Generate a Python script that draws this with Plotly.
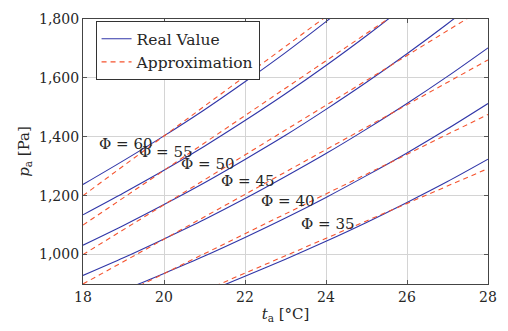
import plotly.graph_objects as go

# Air temperature grid [°C]
t_a = [18, 19, 20, 21, 22, 23, 24, 25, 26, 27, 28]

# Relative humidity levels [%]
phi_levels = [35, 40, 45, 50, 55, 60]

# Vapour partial pressure p_a [Pa], real value, per humidity level
real_35 = [722, 769, 819, 870, 926, 984, 1045, 1109, 1177, 1248, 1324]
real_40 = [826, 879, 936, 995, 1058, 1124, 1194, 1268, 1345, 1427, 1513]
real_45 = [929, 989, 1053, 1119, 1190, 1265, 1343, 1426, 1513, 1605, 1702]
real_50 = [1032, 1099, 1170, 1244, 1323, 1405, 1493, 1585, 1682, 1784, 1891]
real_55 = [1135, 1209, 1286, 1368, 1455, 1546, 1642, 1743, 1850, 1962, 2080]
real_60 = [1238, 1319, 1403, 1492, 1587, 1686, 1791, 1901, 2018, 2140, 2269]

# Vapour partial pressure p_a [Pa], linear approximation
approx_35 = [700, 759, 818, 877, 937, 996, 1055, 1114, 1173, 1232, 1292]
approx_40 = [800, 868, 935, 1003, 1070, 1138, 1206, 1273, 1341, 1408, 1476]
approx_45 = [900, 976, 1052, 1128, 1204, 1280, 1356, 1432, 1508, 1584, 1661]
approx_50 = [1000, 1085, 1169, 1254, 1338, 1423, 1507, 1592, 1676, 1761, 1845]
approx_55 = [1100, 1193, 1286, 1379, 1472, 1565, 1658, 1751, 1844, 1937, 2030]
approx_60 = [1200, 1301, 1403, 1504, 1606, 1707, 1808, 1910, 2011, 2113, 2214]

real_series = [real_35, real_40, real_45, real_50, real_55, real_60]
approx_series = [approx_35, approx_40, approx_45, approx_50, approx_55, approx_60]

# Curve label anchors (t_a, p_a)
label_x = [24.06, 23.07, 22.07, 21.09, 20.05, 19.06]
label_y = [1103, 1183, 1250, 1307, 1347, 1374]

x_ticks = [18, 20, 22, 24, 26, 28]
y_ticks = [1000, 1200, 1400, 1600, 1800]
y_tick_text = ["1,000", "1,200", "1,400", "1,600", "1,800"]

BLUE = "#3036a8"
RED = "#f5532e"
FONT = "DejaVu Serif"
FSIZE = 14
TXT = "#262626"

fig = go.Figure()

for i, (r, a) in enumerate(zip(real_series, approx_series)):
    fig.add_trace(go.Scatter(
        x=t_a, y=r, mode="lines", name="Real Value",
        line=dict(color=BLUE, width=1.1, shape="spline", smoothing=0.8),
        showlegend=(i == 0), legendrank=1,
    ))
    fig.add_trace(go.Scatter(
        x=t_a, y=a, mode="lines", name="Approximation",
        line=dict(color=RED, width=1.1, dash="5px,4px"),
        showlegend=(i == 0), legendrank=2,
    ))

for phi, lx, ly in zip(phi_levels, label_x, label_y):
    fig.add_annotation(
        x=lx, y=ly, text=f"Φ = {phi}", showarrow=False,
        font=dict(family=FONT, size=15, color=TXT),
    )

axis_common = dict(
    showgrid=True, gridcolor="#d4d4d4", gridwidth=1,
    showline=True, linecolor="#444", linewidth=1.2, mirror="allticks",
    ticks="inside", ticklen=4, tickcolor="#555",
    tickfont=dict(family=FONT, size=FSIZE, color=TXT),
    zeroline=False,
)

fig.update_xaxes(
    range=[18, 28], tickvals=x_ticks,
    title=dict(text="<i>t</i><sub>a</sub> [°C]", font=dict(family=FONT, size=15, color=TXT), standoff=4),
    **axis_common,
)
fig.update_yaxes(
    range=[900, 1800], tickvals=y_ticks, ticktext=y_tick_text,
    title=dict(text="<i>p</i><sub>a</sub> [Pa]", font=dict(family=FONT, size=15, color=TXT), standoff=5),
    **axis_common,
)

fig.update_layout(
    width=508, height=331,
    margin=dict(l=83, r=11, t=14, b=47),
    paper_bgcolor="white", plot_bgcolor="white",
    legend=dict(
        x=0.031, y=0.992, xanchor="left", yanchor="top",
        bgcolor="white", bordercolor="#333", borderwidth=1,
        font=dict(family=FONT, size=15.5, color=TXT),
        tracegroupgap=0, itemwidth=30,
    ),
)

fig.write_html("out.html")
